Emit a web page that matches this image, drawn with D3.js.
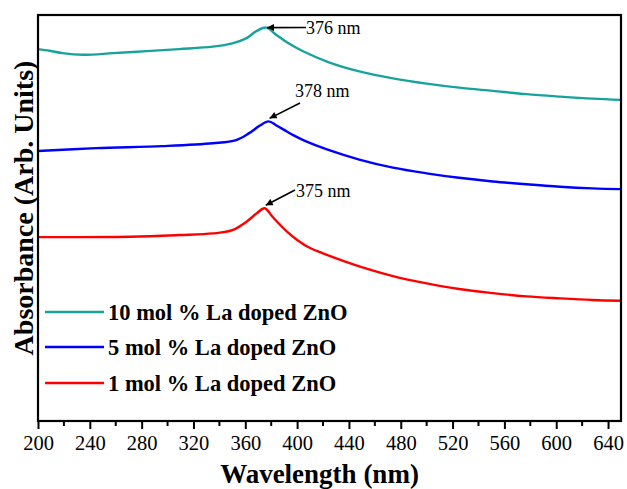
<!DOCTYPE html>
<html>
<head>
<meta charset="utf-8">
<script src="https://cdn.jsdelivr.net/npm/d3@7"></script>
<style>
  html, body { margin: 0; padding: 0; background: #fff; }
  svg { display: block; }
</style>
</head>
<body>
<svg id="chart" width="627" height="489"></svg>
<script>
// UV-Vis absorbance spectra of La-doped ZnO (arbitrary units)
const wl10 = [200, 209, 219, 235, 258, 284, 309, 335, 350, 361, 368, 376, 384, 394, 405, 424, 448, 474, 500, 525, 551, 577, 603, 628, 650];
const abs10 = [0.916, 0.912, 0.906, 0.902, 0.906, 0.911, 0.916, 0.922, 0.930, 0.943, 0.959, 0.969, 0.951, 0.929, 0.910, 0.884, 0.861, 0.844, 0.831, 0.821, 0.813, 0.805, 0.799, 0.794, 0.791];

const wl5 = [200, 245, 296, 335, 353, 363, 371, 378, 384, 390, 397, 406, 423, 448, 474, 500, 525, 551, 577, 603, 628, 650];
const abs5 = [0.665, 0.672, 0.677, 0.684, 0.692, 0.709, 0.727, 0.738, 0.728, 0.717, 0.704, 0.690, 0.669, 0.644, 0.624, 0.610, 0.599, 0.590, 0.583, 0.577, 0.573, 0.571];

const wl1 = [200, 271, 309, 335, 350, 361, 369, 375, 381, 392, 400, 410, 420, 435, 448, 474, 500, 525, 551, 577, 603, 628, 650];
const abs1 = [0.453, 0.454, 0.458, 0.462, 0.470, 0.491, 0.512, 0.524, 0.503, 0.467, 0.446, 0.426, 0.413, 0.395, 0.381, 0.357, 0.339, 0.325, 0.315, 0.307, 0.302, 0.298, 0.296];

const seriesNames = ["10 mol % La doped ZnO", "5 mol % La doped ZnO", "1 mol % La doped ZnO"];
const seriesColors = ["#17a39c", "#0000ff", "#ff0000"];
const peakLabels = ["376 nm", "378 nm", "375 nm"];
const peakWl = [376, 378, 375];

const xTicks = [200, 240, 280, 320, 360, 400, 440, 480, 520, 560, 600, 640];

const series = [
  { wl: wl10, abs: abs10 },
  { wl: wl5, abs: abs5 },
  { wl: wl1, abs: abs1 }
];

const svg = d3.select("#chart");
const plotL = 38, plotR = 621, plotT = 15, plotB = 421;

const x = d3.scaleLinear().domain([200, 650]).range([plotL, plotR]);
const y = d3.scaleLinear().domain([0, 1]).range([plotB, plotT]);

const serif = "'Liberation Serif', 'Times New Roman', serif";

// arrow marker
svg.append("defs").append("marker")
  .attr("id", "arrow")
  .attr("viewBox", "0 0 10 10")
  .attr("refX", 10).attr("refY", 5)
  .attr("markerWidth", 9).attr("markerHeight", 7)
  .attr("markerUnits", "userSpaceOnUse")
  .attr("orient", "auto")
  .append("path").attr("d", "M0,0 L10,5 L0,10 Z").attr("fill", "#000");

// spectra
const line = d3.line()
  .x(d => x(d[0]))
  .y(d => y(d[1]))
  .curve(d3.curveCatmullRom.alpha(0.5));

series.forEach((s, i) => {
  const pts = s.wl.map((w, j) => [w, s.abs[j]]);
  svg.append("path")
    .datum(pts)
    .attr("fill", "none")
    .attr("stroke", seriesColors[i])
    .attr("stroke-width", 2.4)
    .attr("stroke-linejoin", "round")
    .attr("d", line);
});

// bottom axis with major and minor ticks
const xAxis = d3.axisBottom(x)
  .tickValues(xTicks)
  .tickSize(8)
  .tickSizeOuter(0)
  .tickPadding(6)
  .tickFormat(d3.format("d"));

const gx = svg.append("g")
  .attr("transform", `translate(0,${plotB})`)
  .call(xAxis);
gx.select(".domain").remove();
gx.selectAll(".tick line").attr("stroke", "#000").attr("stroke-width", 2);
gx.selectAll(".tick text")
  .attr("font-family", serif)
  .attr("font-size", 20.5)
  .attr("fill", "#000");

const minor = d3.range(220, 650, 40);
svg.append("g").selectAll("line")
  .data(minor)
  .join("line")
  .attr("x1", d => x(d)).attr("x2", d => x(d))
  .attr("y1", plotB).attr("y2", plotB + 5)
  .attr("stroke", "#000").attr("stroke-width", 2);

// frame
svg.append("rect")
  .attr("x", plotL).attr("y", plotT)
  .attr("width", plotR - plotL).attr("height", plotB - plotT)
  .attr("fill", "none")
  .attr("stroke", "#000")
  .attr("stroke-width", 2.2);

// peak annotations
const annotations = [
  { text: peakLabels[0], tx: 306, ty: 34, ax: 306, ay: 27.5, tip: [peakWl[0], abs10[11]], dy: 0 },
  { text: peakLabels[1], tx: 295, ty: 97, ax: 300, ay: 103, tip: [peakWl[1], abs5[7]], dy: -3 },
  { text: peakLabels[2], tx: 296, ty: 197, ax: 295, ay: 190, tip: [peakWl[2], abs1[7]], dy: -3 }
];

annotations.forEach(a => {
  svg.append("line")
    .attr("x1", a.ax).attr("y1", a.ay)
    .attr("x2", x(a.tip[0]) + 1).attr("y2", y(a.tip[1]) + a.dy)
    .attr("stroke", "#000")
    .attr("stroke-width", 1.6)
    .attr("marker-end", "url(#arrow)");
  svg.append("text")
    .attr("x", a.tx).attr("y", a.ty)
    .attr("font-family", serif)
    .attr("font-size", 18)
    .attr("fill", "#000")
    .text(a.text);
});

// legend
const legendY = [312, 347, 383];
seriesNames.forEach((name, i) => {
  svg.append("line")
    .attr("x1", 45).attr("x2", 104)
    .attr("y1", legendY[i]).attr("y2", legendY[i])
    .attr("stroke", seriesColors[i])
    .attr("stroke-width", 2.6);
  svg.append("text")
    .attr("x", 108).attr("y", legendY[i] + 8)
    .attr("font-family", serif)
    .attr("font-weight", "bold")
    .attr("font-size", 22.5)
    .attr("fill", "#000")
    .text(name);
});

// axis titles
svg.append("text")
  .attr("x", (plotL + plotR) / 2 - 10).attr("y", 483)
  .attr("text-anchor", "middle")
  .attr("font-family", serif)
  .attr("font-weight", "bold")
  .attr("font-size", 27)
  .attr("fill", "#000")
  .text("Wavelength (nm)");

svg.append("text")
  .attr("transform", "translate(33,208) rotate(-90)")
  .attr("text-anchor", "middle")
  .attr("font-family", serif)
  .attr("font-weight", "bold")
  .attr("font-size", 28)
  .attr("fill", "#000")
  .text("Absorbance (Arb. Units)");
</script>
</body>
</html>
